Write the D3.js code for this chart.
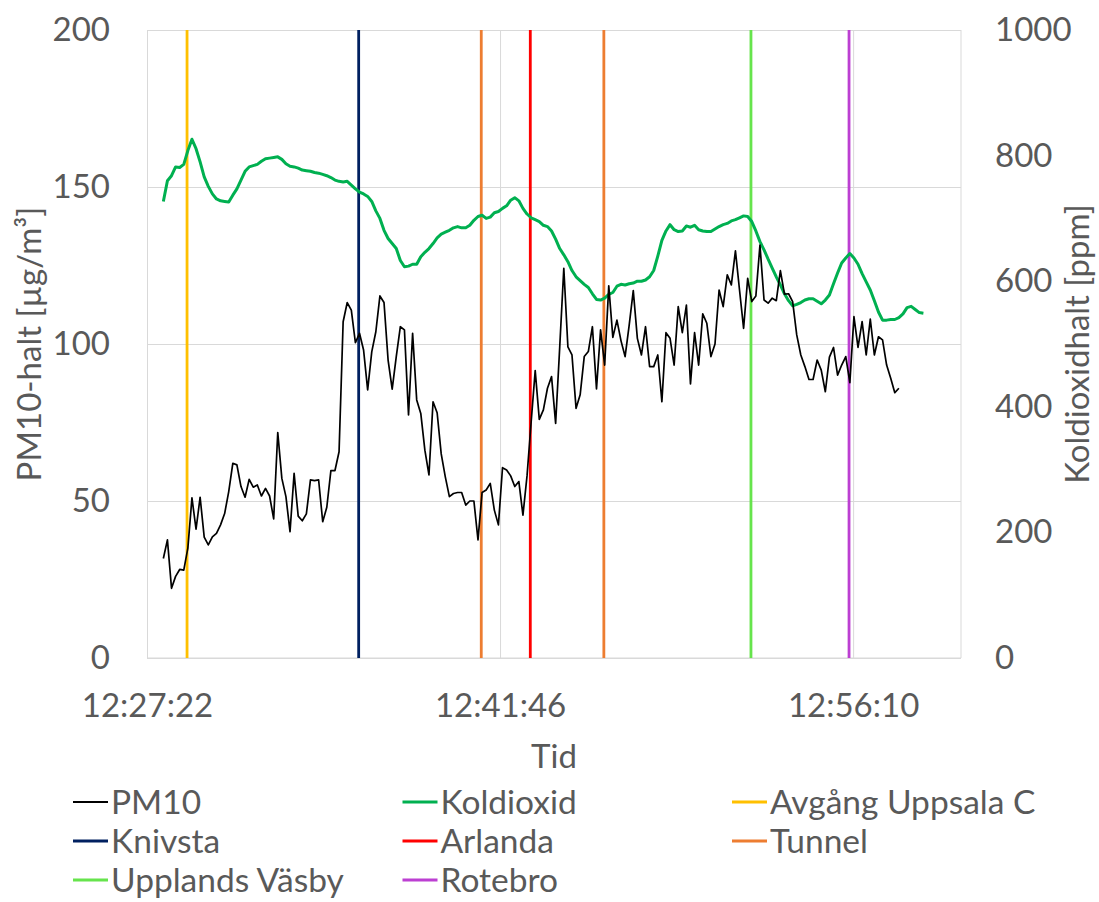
<!DOCTYPE html>
<html>
<head>
<meta charset="utf-8">
<script src="https://cdn.jsdelivr.net/npm/d3@7"></script>
<style>
  body { margin: 0; background: #fff; }
  text { font-family: Lato, 'Liberation Sans', sans-serif; fill: #595959; }
</style>
</head>
<body>
<div id="chart"></div>
<script>
// mätning Uppsala - Stockholm, PM10 och koldioxid i tåget

var w = 1099;
var h = 902;
var margin = ({top: 30, right: 138, bottom: 244, left: 147});

var xStart = '12:27:22';
var xEnd = '13:00:34';
var xTickLabels = ['12:27:22', '12:41:46', '12:56:10'];
var leftTicks = [0, 50, 100, 150, 200];
var rightTicks = [0, 200, 400, 600, 800, 1000];

// both series: one value every 10 s from 12:28:02
var seriesStart = '12:28:02';
var stepSec = 10;

var pm10 = [31.7, 37.6, 22.2, 26, 28.2, 28, 35, 51, 41, 51.2,
  38.5, 36, 38.6, 39.7, 42.4, 46, 53, 62, 61.5, 54.6,
  51.2, 56.9, 54.4, 55.1, 51.6, 54, 51.6, 44.3, 71.8, 57.2,
  51.4, 40.2, 58.8, 45.2, 43.7, 45.9, 56.7, 56.5, 56.7, 43.4,
  48, 59.7, 59.7, 65.7, 107.1, 113.2, 110.8, 100.4, 103.4, 98.1,
  85.4, 97.5, 103.9, 115.3, 113.2, 94.9, 85.6, 96, 105.5, 104.5,
  77.4, 103.4, 82.2, 77.9, 66.2, 58.3, 81.6, 78.1, 65, 57.7,
  51.4, 52.4, 52.7, 52.7, 48.7, 50, 50, 37.6, 52.7, 53.5,
  55.6, 47.1, 42.4, 60.6, 59.9, 58, 54.6, 56.2, 45.5, 58,
  75, 91.5, 76, 79, 85.9, 89.6, 74.7, 99, 124.1, 99.1,
  96.5, 79.5, 83.8, 96, 97.6, 105.5, 85.7, 104.5, 93.3, 118.5,
  102.1, 107.6, 101, 96, 106, 117, 101.8, 96.5, 105.5, 92.8,
  92.8, 96.5, 81.6, 103.6, 101.8, 93.3, 111.9, 103.6, 112.4, 87.3,
  103.6, 93.3, 109.6, 106.6, 96, 100, 117.2, 111.9, 122, 118.8,
  129.7, 117.2, 105, 120.9, 113.5, 115.3, 131.5, 114, 113, 114.6,
  113.8, 123.4, 115.9, 116, 113.5, 102.9, 96.5, 92.8, 88.7, 88.7,
  94.9, 91.7, 84.8, 95.8, 98.9, 90.1, 93.3, 96, 87.7, 108.7,
  98.9, 107.1, 96.5, 107.9, 96.5, 102.3, 101.3, 93.3, 89.1, 84.5,
  85.9];

var co2 = [727, 760, 768, 782, 781, 786, 808, 826, 811, 790,
  766, 751, 739, 731, 728, 727, 726, 737, 747, 761,
  775, 782, 784, 786, 791, 795, 796, 797, 798, 794,
  787, 783, 782, 780, 777, 776, 775, 773, 772, 770,
  768, 765, 761, 759, 758, 759, 753, 747, 742, 739,
  735, 727, 712, 700, 681, 668, 660, 652, 633, 623,
  624, 627, 627, 639, 646, 652, 660, 669, 675, 678,
  681, 685, 687, 685, 685, 689, 697, 703, 705, 700,
  702, 709, 711, 716, 720, 729, 733, 728, 716, 707,
  701, 698, 695, 689, 687, 680, 667, 652, 642, 631,
  617, 607, 601, 595, 590, 580, 571, 570, 573, 579,
  582, 592, 595, 594, 596, 597, 600, 600, 602, 607,
  617, 640, 665, 680, 690, 682, 679, 680, 688, 686,
  689, 682, 680, 679, 679, 683, 687, 690, 692, 696,
  698, 701, 704, 703, 695, 680, 663, 650, 635, 621,
  607, 594, 580, 569, 561, 563, 566, 570, 572, 572,
  568, 564, 570, 578, 596, 613, 629, 637, 644, 637,
  627, 612, 599, 586, 569, 551, 538, 538, 539, 539,
  542, 548, 558, 560, 555, 550, 549];

var eventNames = ['Avgång Uppsala C', 'Knivsta', 'Tunnel', 'Arlanda', 'Tunnel', 'Upplands Väsby', 'Rotebro'];
var eventTimes = ['12:29:00', '12:36:00', '12:41:00', '12:43:00', '12:46:00', '12:52:00', '12:56:00'];
var eventColors = ['#ffc000', '#002060', '#ed7d31', '#ff0000', '#ed7d31', '#66e44c', '#bc3fd2'];

var legendNames = ['PM10', 'Koldioxid', 'Avgång Uppsala C', 'Knivsta', 'Arlanda', 'Tunnel', 'Upplands Väsby', 'Rotebro'];
var legendColors = ['#000000', '#00b050', '#ffc000', '#002060', '#ff0000', '#ed7d31', '#66e44c', '#bc3fd2'];

var parseTime = d3.timeParse('%H:%M:%S');
var t0 = parseTime(seriesStart);
var timeAt = i => new Date(t0.getTime() + i * stepSec * 1000);

var x = d3.scaleTime()
     .domain([parseTime(xStart), parseTime(xEnd)])
     .range([margin.left, w - margin.right]);

var y = d3.scaleLinear()
     .domain([0, 200])
     .range([h - margin.bottom, margin.top]);

var y2 = d3.scaleLinear()
     .domain([0, 1000])
     .range([h - margin.bottom, margin.top]);

var svg = d3.select('#chart')
     .append('svg')
     .attr('width', w)
     .attr('height', h);

// gridlines
svg.append('g')
     .attr('class', 'grid')
     .attr('transform', 'translate(' + margin.left + ',0)')
     .call(d3.axisLeft(y).tickValues(leftTicks).tickSize(-(w - margin.left - margin.right)).tickFormat(''))
     .call(g => g.select('.domain').remove())
     .call(g => g.selectAll('line').attr('stroke', '#d9d9d9'));

svg.append('g')
     .attr('class', 'grid')
     .attr('transform', 'translate(0,' + (h - margin.bottom) + ')')
     .call(d3.axisBottom(x).tickValues(xTickLabels.map(parseTime)).tickSize(-(h - margin.top - margin.bottom)).tickFormat(''))
     .call(g => g.select('.domain').remove())
     .call(g => g.selectAll('line').attr('stroke', '#d9d9d9'));

svg.append('line')
     .attr('x1', w - margin.right).attr('x2', w - margin.right)
     .attr('y1', margin.top).attr('y2', h - margin.bottom)
     .attr('stroke', '#d9d9d9');

// axes (labels only, like excel)
var leftAxis = svg.append('g')
     .attr('transform', 'translate(' + margin.left + ',0)')
     .call(d3.axisLeft(y).tickValues(leftTicks).tickSize(0).tickPadding(37));

var rightAxis = svg.append('g')
     .attr('transform', 'translate(' + (w - margin.right) + ',0)')
     .call(d3.axisRight(y2).tickValues(rightTicks).tickSize(0).tickPadding(34).tickFormat(d3.format('d')));

var bottomAxis = svg.append('g')
     .attr('transform', 'translate(0,' + (h - margin.bottom) + ')')
     .call(d3.axisBottom(x).tickValues(xTickLabels.map(parseTime)).tickSize(0).tickPadding(36)
       .tickFormat(d3.timeFormat('%H:%M:%S')));

[leftAxis, rightAxis, bottomAxis].forEach(function(a) {
  a.select('.domain').remove();
  a.selectAll('text')
     .style('font-family', 'Lato, sans-serif')
     .style('font-size', '33px')
     .attr('fill', '#595959');
});
svg.append('line')
     .attr('x1', margin.left).attr('x2', w - margin.right)
     .attr('y1', h - margin.bottom).attr('y2', h - margin.bottom)
     .attr('stroke', '#d9d9d9');

// axis titles
svg.append('text')
     .attr('transform', 'translate(41,' + ((margin.top + h - margin.bottom) / 2) + ') rotate(-90)')
     .attr('text-anchor', 'middle')
     .attr('font-size', 33)
     .text('PM10-halt [µg/m³]');

svg.append('text')
     .attr('transform', 'translate(1089,' + ((margin.top + h - margin.bottom) / 2) + ') rotate(-90)')
     .attr('text-anchor', 'middle')
     .attr('font-size', 33)
     .text('Koldioxidhalt [ppm]');

svg.append('text')
     .attr('x', (margin.left + w - margin.right) / 2)
     .attr('y', 768)
     .attr('text-anchor', 'middle')
     .attr('font-size', 33)
     .text('Tid');

// station lines
svg.selectAll('.event')
     .data(eventTimes)
     .enter()
     .append('line')
     .attr('class', 'event')
     .attr('x1', d => x(parseTime(d)))
     .attr('x2', d => x(parseTime(d)))
     .attr('y1', y(200))
     .attr('y2', y(0))
     .attr('stroke', (d, i) => eventColors[i])
     .attr('stroke-width', 2.8);

var pmLine = d3.line()
     .x((d, i) => x(timeAt(i)))
     .y(d => y(d));

var co2Line = d3.line()
     .x((d, i) => x(timeAt(i)))
     .y(d => y2(d));

svg.append('path')
     .datum(co2)
     .attr('fill', 'none')
     .attr('stroke', '#00b050')
     .attr('stroke-width', 3)
     .attr('stroke-linejoin', 'round')
     .attr('d', co2Line);

svg.append('path')
     .datum(pm10)
     .attr('fill', 'none')
     .attr('stroke', '#000')
     .attr('stroke-width', 1.7)
     .attr('stroke-linejoin', 'round')
     .attr('d', pmLine);

// legend, 3 columns
var legend = svg.append('g');
var item = legend.selectAll('g')
     .data(legendNames)
     .enter()
     .append('g')
     .attr('transform', (d, i) => 'translate(' + (73 + (i % 3) * 329.5) + ',' + (802 + Math.floor(i / 3) * 39) + ')');

item.append('line')
     .attr('x1', 0).attr('x2', 35)
     .attr('y1', 0).attr('y2', 0)
     .attr('stroke', (d, i) => legendColors[i])
     .attr('stroke-width', (d, i) => i == 0 ? 2 : 3);

item.append('text')
     .attr('x', 38)
     .attr('y', 0)
     .attr('dy', '0.35em')
     .attr('font-size', 33.5)
     .text(d => d);
</script>
</body>
</html>
